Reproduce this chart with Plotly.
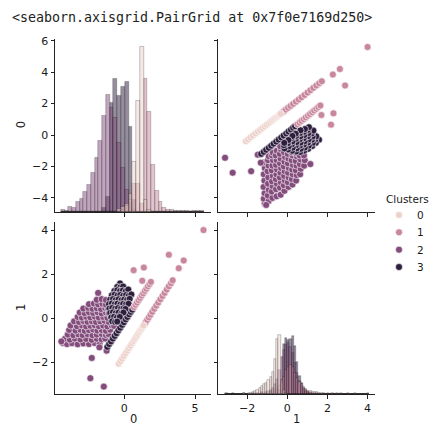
import plotly.graph_objects as go

W, H = 430, 427

# ---------------- data ----------------
cluster_names = ["0", "1", "2", "3"]
cluster_colors = ["#edd1cb", "#c8879e", "#834c7d", "#2d1e3e"]
legend_title = "Clusters"

# scatter points (feature 0, feature 1) per cluster
cluster0_points = [
    (-0.40, -2.06), (-0.28, -1.95), (-0.15, -1.83), (-0.03, -1.71), (0.10, -1.58),
    (0.22, -1.46), (0.33, -1.35), (0.44, -1.24), (0.55, -1.13), (0.65, -1.03),
    (0.74, -0.94), (0.83, -0.85), (0.91, -0.77), (0.98, -0.70), (1.05, -0.63),
    (1.12, -0.56), (1.18, -0.50), (1.24, -0.44), (1.30, -0.38), (1.35, -0.33),
]
cluster1_points = [
    (1.42, -0.27), (1.52, -0.17), (1.62, -0.07), (1.73, 0.04), (1.85, 0.16), (1.98, 0.29),
    (2.12, 0.43), (2.26, 0.57), (2.40, 0.71), (2.55, 0.86), (2.70, 1.01), (2.85, 1.15),
    (3.00, 1.30), (3.15, 1.45), (3.30, 1.59), (3.42, 1.72),
    (0.68, 0.50), (0.79, 0.61), (0.90, 0.71), (1.01, 0.82), (1.12, 0.92), (1.23, 1.03),
    (1.34, 1.13), (1.45, 1.24), (1.56, 1.34), (1.67, 1.45), (1.78, 1.55), (1.88, 1.65),
    (0.66, 2.18), (1.38, 2.30), (1.27, 1.70), (3.15, 2.88), (3.85, 2.27), (4.20, 2.62),
    (5.60, 4.00),
]
cluster2_points = [
    (-4.35, -1.12), (-4.05, -1.17), (-3.70, -1.13), (-3.30, -1.18), (-2.90, -1.14),
    (-2.50, -1.17), (-2.10, -1.12), (-1.75, -1.16),
    (-4.20, -0.93), (-3.85, -0.97), (-3.50, -0.92), (-3.10, -0.96), (-2.70, -0.94),
    (-2.30, -0.98), (-1.95, -0.93), (-1.60, -0.96), (-1.35, -0.92),
    (-4.00, -0.74), (-3.60, -0.77), (-3.25, -0.73), (-2.95, -0.76), (-2.60, -0.72),
    (-2.25, -0.77), (-1.95, -0.74), (-1.60, -0.71), (-1.30, -0.76), (-1.12, -0.72),
    (-3.90, -0.53), (-3.45, -0.56), (-3.10, -0.52), (-2.80, -0.57), (-2.50, -0.54),
    (-2.20, -0.51), (-1.90, -0.56), (-1.60, -0.53), (-1.30, -0.57), (-1.00, -0.52),
    (-3.80, -0.33), (-3.35, -0.36), (-3.00, -0.32), (-2.70, -0.37), (-2.40, -0.34),
    (-2.10, -0.31), (-1.80, -0.36), (-1.50, -0.33), (-1.20, -0.37), (-0.90, -0.32), (-0.72, -0.35),
    (-3.55, -0.14), (-3.20, -0.17), (-2.90, -0.12), (-2.60, -0.16), (-2.30, -0.13),
    (-2.00, -0.17), (-1.70, -0.14), (-1.40, -0.11), (-1.10, -0.16), (-0.80, -0.13),
    (-3.30, 0.06), (-3.00, 0.03), (-2.70, 0.07), (-2.40, 0.04), (-2.10, 0.08),
    (-1.80, 0.03), (-1.50, 0.06), (-1.20, 0.02), (-0.95, 0.07),
    (-3.15, 0.26), (-2.80, 0.23), (-2.50, 0.27), (-2.20, 0.24), (-1.90, 0.28),
    (-1.60, 0.22), (-1.30, 0.26), (-1.10, 0.23),
    (-2.90, 0.44), (-2.55, 0.47), (-2.25, 0.43), (-1.95, 0.46), (-1.65, 0.42),
    (-1.35, 0.47), (-1.15, 0.44),
    (-2.50, 0.64), (-2.15, 0.67), (-1.85, 0.63), (-1.55, 0.66), (-1.30, 0.62),
    (-1.95, 0.84), (-1.60, 0.87), (-1.30, 0.83),
    (-4.45, -1.05), (-2.40, -2.72), (-1.45, -3.10), (-2.30, -1.80), (-1.85, 1.15),
    (-1.76, -1.32), (-1.25, -1.47),
]
cluster3_points = [
    (-1.20, -1.30), (-1.07, -1.17), (-0.94, -1.05), (-0.81, -0.92), (-0.68, -0.80),
    (-0.55, -0.68), (-0.42, -0.55), (-0.29, -0.43), (-0.16, -0.30), (-0.03, -0.18),
    (0.10, -0.05), (0.22, 0.06), (0.34, 0.18), (0.46, 0.29), (0.56, 0.39),
    (-0.30, 1.58),
    (-0.50, 1.42), (-0.28, 1.40), (-0.08, 1.44),
    (-0.70, 1.24), (-0.50, 1.27), (-0.30, 1.23), (-0.10, 1.26), (0.10, 1.22), (0.28, 1.30),
    (-0.88, 1.04), (-0.68, 1.07), (-0.48, 1.03), (-0.28, 1.06), (-0.08, 1.02), (0.12, 1.05),
    (0.32, 1.02), (0.50, 1.08),
    (-1.00, 0.84), (-0.80, 0.87), (-0.60, 0.83), (-0.40, 0.86), (-0.20, 0.82), (0.00, 0.85),
    (0.20, 0.83), (0.38, 0.88),
    (-1.08, 0.64), (-0.88, 0.67), (-0.68, 0.63), (-0.48, 0.66), (-0.28, 0.62), (-0.08, 0.65),
    (0.12, 0.63), (0.30, 0.66),
    (-1.05, 0.44), (-0.85, 0.47), (-0.65, 0.43), (-0.45, 0.46), (-0.25, 0.42), (-0.05, 0.45),
    (0.08, 0.42),
    (-1.00, 0.24), (-0.80, 0.27), (-0.60, 0.23), (-0.40, 0.26), (-0.20, 0.22), (-0.06, 0.26),
    (-0.92, 0.04), (-0.72, 0.07), (-0.52, 0.03), (-0.32, 0.06),
    (-0.85, -0.14), (-0.65, -0.17), (-0.50, -0.15),
]

# histogram of feature 0 (bin start, bin width, counts per cluster)
hist0_start = -4.49
hist0_width = 0.266
hist0_c0 = [0, 0, 0, 0, 0, 0, 0, 0, 0, 0, 0, 0, 0, 0, 0, 3, 5, 8, 18, 51,
            112, 166, 12, 2, 0, 0, 0, 0, 0, 0, 0, 0, 0, 0, 0, 0, 0, 0]
hist0_c1 = [0, 0, 0, 0, 0, 0, 0, 0, 0, 0, 0, 0, 0, 0, 0, 0, 2, 6, 12, 29,
            29, 8, 134, 101, 48, 21, 10, 4, 2, 2, 1, 1, 1, 1, 0, 1, 1, 1]
hist0_c2 = [2, 1, 5, 4, 10, 13, 20, 28, 40, 55, 72, 97, 118, 105, 95, 70, 45, 22, 8, 2,
            0, 0, 0, 0, 0, 0, 0, 0, 0, 0, 0, 0, 0, 0, 0, 0, 0, 0]
hist0_c3 = [0, 0, 0, 0, 0, 0, 0, 0, 0, 0, 0, 4, 15, 110, 134, 117, 126, 131, 86, 12,
            0, 0, 0, 0, 0, 0, 0, 0, 0, 0, 0, 0, 0, 0, 0, 0, 0, 0]

# histogram of feature 1
hist1_start = -3.08
hist1_width = 0.11
hist1_c0 = [0, 0, 0, 0, 0, 0, 0, 0, 1, 0, 1, 1, 2, 3, 4, 6, 8, 10, 12, 15,
            18, 23, 36, 56, 60, 15, 4, 1, 0, 0, 0, 0, 0, 0, 0, 0, 0, 0, 0, 0,
            0, 0, 0, 0, 0, 0, 0, 0, 0, 0, 0, 0, 0, 0, 0, 0, 0, 0, 0, 0,
            0, 0, 0, 0, 0]
hist1_c1 = [0, 0, 0, 0, 0, 0, 0, 0, 0, 0, 0, 0, 0, 0, 0, 0, 1, 0, 0, 0,
            2, 0, 3, 5, 8, 12, 18, 25, 28, 30, 28, 22, 17, 13, 10, 7, 5, 3, 3, 2,
            2, 2, 1, 1, 1, 0, 1, 0, 1, 0, 1, 0, 1, 0, 0, 1, 0, 0, 1, 0,
            0, 0, 0, 0, 1]
hist1_c2 = [1, 0, 0, 1, 0, 0, 0, 0, 1, 0, 0, 0, 1, 0, 1, 0, 2, 0, 2, 3,
            4, 6, 10, 16, 25, 38, 45, 50, 52, 48, 42, 32, 22, 14, 8, 5, 3, 2, 1, 0,
            0, 0, 0, 0, 0, 0, 0, 0, 0, 0, 0, 0, 0, 0, 0, 0, 0, 0, 0, 0,
            0, 0, 0, 0, 0]
hist1_c3 = [0, 0, 0, 0, 0, 0, 0, 0, 0, 0, 0, 0, 0, 0, 0, 0, 0, 0, 0, 0,
            0, 0, 0, 1, 4, 15, 51, 57, 55, 56, 59, 49, 33, 19, 12, 6, 4, 2, 1, 0,
            0, 0, 0, 0, 0, 0, 0, 0, 0, 0, 0, 0, 0, 0, 0, 0, 0, 0, 0, 0,
            0, 0, 0, 0, 0]

# axis settings
range_f0 = [-4.9, 6.13]
range_f1 = [-3.45, 4.37]
ticks_f0_y = [-4, -2, 0, 2, 4, 6]
ticks_f0_x = [0, 5]
ticks_f1 = [-2, 0, 2, 4]
header_text = "&lt;seaborn.axisgrid.PairGrid at 0x7f0e7169d250&gt;"

# ---------------- figure ----------------
points = [cluster0_points, cluster1_points, cluster2_points, cluster3_points]
hist0 = [hist0_c0, hist0_c1, hist0_c2, hist0_c3]
hist1 = [hist1_c0, hist1_c1, hist1_c2, hist1_c3]
count_max = max(max(max(h) for h in hist0), max(max(h) for h in hist1))
count_top = count_max * 1.05   # shared count scale of the diagonal plots


def px_x(a, b):
    return [a / W, b / W]


def px_y(top, bottom):
    return [1 - bottom / H, 1 - top / H]


def rgba(hexc, a):
    hexc = hexc.lstrip("#")
    r, g, b = int(hexc[0:2], 16), int(hexc[2:4], 16), int(hexc[4:6], 16)
    return f"rgba({r},{g},{b},{a})"


dom_x0 = px_x(55, 211)
dom_x1 = px_x(218, 375)
dom_y0 = px_y(35, 210)
dom_y1 = px_y(220, 394)

fig = go.Figure()

# diagonal histograms: counts drawn as a twin scale on the diagonal axes
# (bars start at the bottom of the axis, full axis height = count_top)
scale0 = (range_f0[1] - range_f0[0]) / count_top
scale1 = (range_f1[1] - range_f1[0]) / count_top
for c in [3, 2, 1, 0]:
    centers0 = [hist0_start + hist0_width * (i + 0.5) for i in range(len(hist0[c]))]
    fig.add_trace(go.Bar(
        x=centers0, y=[v * scale0 for v in hist0[c]], base=range_f0[0],
        width=hist0_width, xaxis="x", yaxis="y", customdata=hist0[c],
        marker=dict(color=rgba(cluster_colors[c], 0.5),
                    line=dict(color="rgba(0,0,0,0.45)", width=0.5)),
        showlegend=False, hoverinfo="skip"))
    centers1 = [hist1_start + hist1_width * (i + 0.5) for i in range(len(hist1[c]))]
    fig.add_trace(go.Bar(
        x=centers1, y=[v * scale1 for v in hist1[c]], base=range_f1[0],
        width=hist1_width, xaxis="x4", yaxis="y4", customdata=hist1[c],
        marker=dict(color=rgba(cluster_colors[c], 0.5),
                    line=dict(color="rgba(0,0,0,0.45)", width=0.5)),
        showlegend=False, hoverinfo="skip"))

# scatter panels
for c in [2, 3, 1, 0]:
    f0 = [p[0] for p in points[c]]
    f1 = [p[1] for p in points[c]]
    mk = dict(color=cluster_colors[c], size=7, line=dict(color="white", width=0.6))
    # bottom-left: x = feature 0, y = feature 1
    fig.add_trace(go.Scatter(
        x=f0, y=f1, mode="markers", xaxis="x3", yaxis="y3", marker=mk,
        name=cluster_names[c], showlegend=False))
    # top-right: x = feature 1, y = feature 0
    fig.add_trace(go.Scatter(
        x=f1, y=f0, mode="markers", xaxis="x2", yaxis="y2", marker=mk,
        name=cluster_names[c], showlegend=False))

tickfont = dict(family="DejaVu Sans", size=11, color="#1a1a1a")
common = dict(type="linear", showline=True, linecolor="#222", linewidth=1,
              ticks="outside", ticklen=3.5, tickwidth=1, tickcolor="#222",
              showgrid=False, zeroline=False, tickfont=tickfont, fixedrange=True,
              ticklabeloverflow="allow")

fig.update_layout(
    width=W, height=H,
    margin=dict(l=0, r=0, t=0, b=0),
    paper_bgcolor="white", plot_bgcolor="white",
    barmode="overlay", bargap=0, showlegend=False,
    # top-left
    xaxis=dict(domain=dom_x0, range=range_f0, tickvals=ticks_f0_x,
               showticklabels=False, anchor="y", **common),
    yaxis=dict(domain=dom_y0, range=range_f0, tickvals=ticks_f0_y,
               anchor="x", **common),
    # top-right
    xaxis2=dict(domain=dom_x1, range=range_f1, tickvals=ticks_f1,
                showticklabels=False, anchor="y2", **common),
    yaxis2=dict(domain=dom_y0, range=range_f0, tickvals=ticks_f0_y,
                showticklabels=False, anchor="x2", **common),
    # bottom-left
    xaxis3=dict(domain=dom_x0, range=range_f0, tickvals=ticks_f0_x,
                anchor="y3", **common),
    yaxis3=dict(domain=dom_y1, range=range_f1, tickvals=ticks_f1,
                anchor="x3", **common),
    # bottom-right
    xaxis4=dict(domain=dom_x1, range=range_f1, tickvals=ticks_f1,
                anchor="y4", **common),
    yaxis4=dict(domain=dom_y1, range=range_f1, tickvals=ticks_f1,
                showticklabels=False, anchor="x4", **common),
)

ann_font = dict(family="DejaVu Sans", size=11.5, color="#1a1a1a")
leg_font = dict(family="DejaVu Sans", size=10.5, color="#1a1a1a")
fig.add_annotation(x=10 / W, y=1 - 14 / H, xref="paper", yref="paper",
                   text=header_text, showarrow=False, xanchor="left", yanchor="middle",
                   font=dict(family="DejaVu Sans Mono", size=13.3, color="#222"))
fig.add_annotation(x=21 / W, y=1 - 122.5 / H, xref="paper", yref="paper", text="0",
                   textangle=-90, showarrow=False, xanchor="center", yanchor="middle",
                   font=ann_font)
fig.add_annotation(x=21 / W, y=1 - 307 / H, xref="paper", yref="paper", text="1",
                   textangle=-90, showarrow=False, xanchor="center", yanchor="middle",
                   font=ann_font)
fig.add_annotation(x=133 / W, y=1 - 419 / H, xref="paper", yref="paper", text="0",
                   showarrow=False, xanchor="center", yanchor="middle", font=ann_font)
fig.add_annotation(x=296.5 / W, y=1 - 419 / H, xref="paper", yref="paper", text="1",
                   showarrow=False, xanchor="center", yanchor="middle", font=ann_font)

# legend: title, circle glyphs and labels
fig.add_annotation(x=384 / W, y=1 - 196.5 / H, xref="paper", yref="paper", text=legend_title,
                   showarrow=False, xanchor="left", yanchor="middle", font=leg_font)
leg_y0, leg_dy, leg_r = 213.0, 17.5, 3.5
for i, name in enumerate(cluster_names):
    cy = leg_y0 + leg_dy * i
    fig.add_shape(type="circle", xref="paper", yref="paper",
                  x0=(399 - leg_r) / W, x1=(399 + leg_r) / W,
                  y0=1 - (cy + leg_r) / H, y1=1 - (cy - leg_r) / H,
                  fillcolor=cluster_colors[i], line=dict(color="white", width=0.6))
    fig.add_annotation(x=415 / W, y=1 - cy / H, xref="paper", yref="paper", text=name,
                       showarrow=False, xanchor="left", yanchor="middle", font=leg_font)

fig.write_html("out.html", config={"displayModeBar": False},
               post_script="document.body.style.margin='0';document.body.style.overflow='hidden';")
